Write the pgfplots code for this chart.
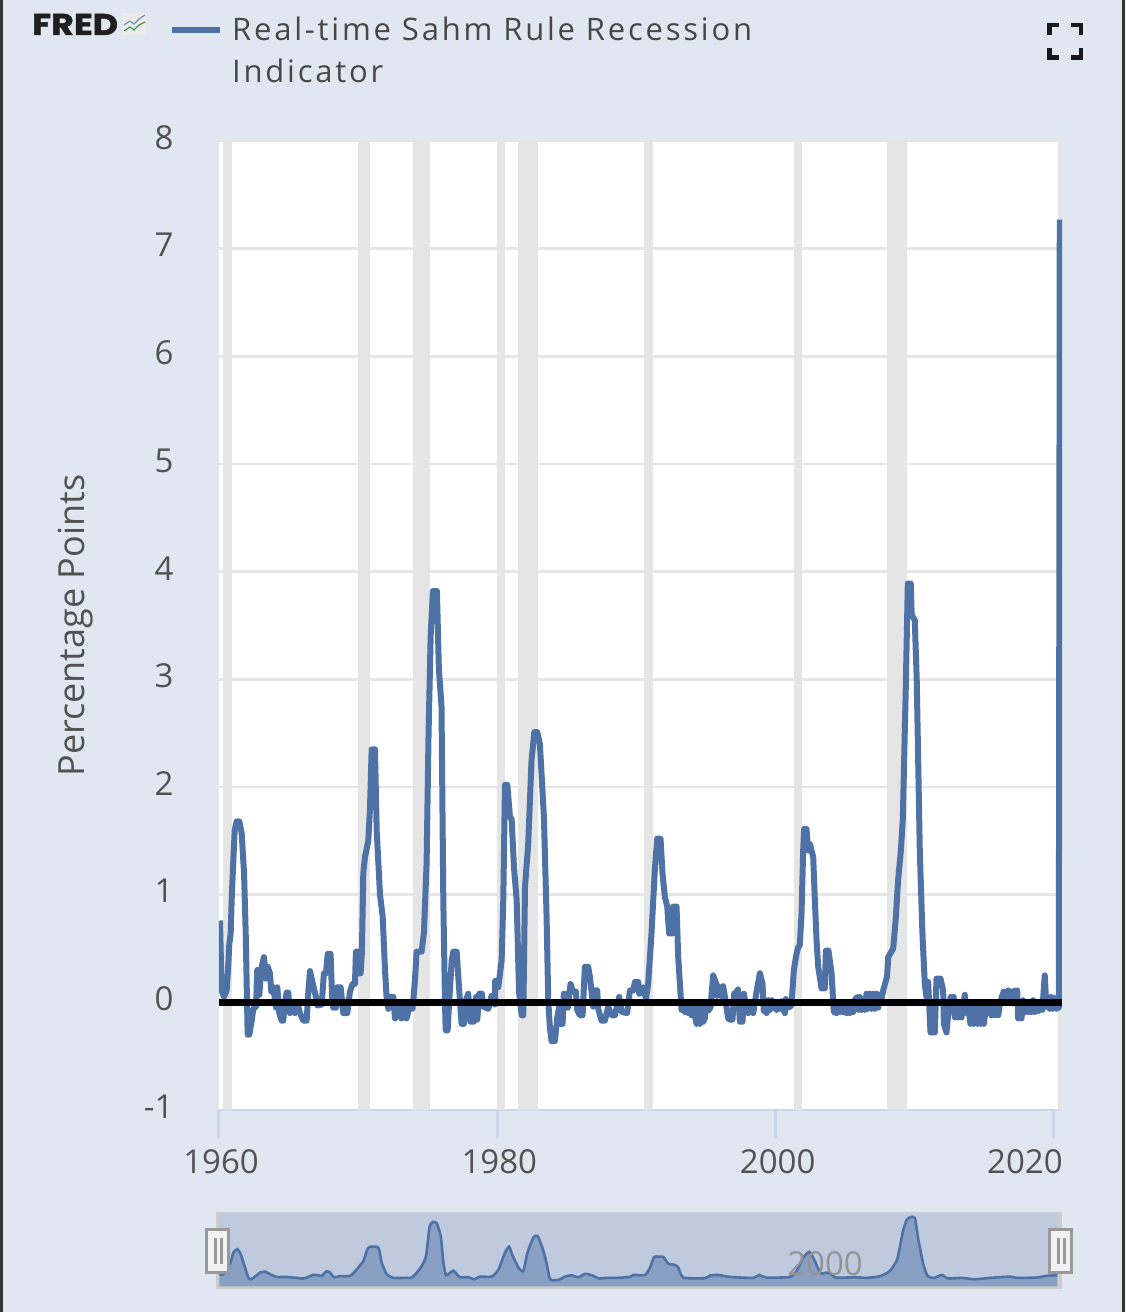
\documentclass[border=0pt]{standalone}
\usepackage{fontspec}
\setmainfont{Open Sans}
\newfontfamily\logofont[FakeStretch=1.16,BoldFeatures={FakeBold=1.5}]{Poppins}
\usepackage{pgfplots}
\usepackage{pgfplotstable}
\pgfplotsset{compat=1.18}
\definecolor{pagebg}{HTML}{E1E7F0}
\definecolor{sahm}{HTML}{4E72A5}
\definecolor{bandc}{HTML}{E5E5E5}
\definecolor{gridc}{HTML}{E6E6E6}
\definecolor{axisc}{HTML}{CCD6EB}
\definecolor{navbg}{HTML}{BFCADF}
\definecolor{navarea}{HTML}{8A9FC4}
\newcommand{\tickfont}{\fontsize{33}{38}\selectfont}
\newcommand{\labelfont}{\fontsize{36}{42}\selectfont}
\newcommand{\legfont}{\addfontfeature{LetterSpace=9}\fontsize{31}{42}\selectfont}
\pgfplotstableread{
year value
1960.07 0.76
1960.19 0.11
1960.36 0.05
1960.55 0.11
1960.65 0.30
1960.74 0.54
1960.84 0.64
1960.91 0.95
1961.03 1.32
1961.13 1.60
1961.27 1.68
1961.46 1.68
1961.63 1.57
1961.80 1.20
1961.92 0.64
1962.00 0.10
1962.06 -0.30
1962.18 -0.30
1962.35 -0.17
1962.47 -0.06
1962.66 -0.04
1962.75 0.30
1962.90 0.07
1963.02 0.30
1963.23 0.42
1963.38 0.22
1963.50 0.33
1963.66 0.27
1963.76 0.10
1963.90 0.14
1964.10 -0.05
1964.19 0.14
1964.33 -0.10
1964.50 -0.17
1964.62 -0.17
1964.74 0.00
1964.86 0.09
1964.98 0.09
1965.10 -0.10
1965.34 0.00
1965.46 -0.10
1965.63 0.00
1965.82 -0.10
1966.06 -0.17
1966.30 -0.17
1966.42 0.10
1966.54 0.29
1966.78 0.15
1966.97 0.05
1967.07 -0.03
1967.38 -0.02
1967.54 0.27
1967.69 0.27
1967.81 0.45
1968.02 0.45
1968.14 0.00
1968.21 -0.05
1968.41 -0.05
1968.50 0.14
1968.74 0.14
1968.93 -0.10
1969.22 -0.10
1969.41 0.10
1969.60 0.17
1969.77 0.17
1969.84 0.47
1969.94 0.47
1970.01 0.27
1970.18 0.27
1970.27 0.47
1970.37 1.20
1970.49 1.35
1970.73 1.50
1970.85 1.80
1970.97 2.35
1971.21 2.35
1971.33 1.60
1971.57 1.00
1971.76 0.80
1971.93 0.30
1972.05 0.03
1972.17 -0.06
1972.29 0.05
1972.53 0.05
1972.65 -0.15
1972.89 -0.10
1973.00 0.00
1973.12 -0.15
1973.29 -0.02
1973.48 -0.15
1973.68 -0.05
1973.91 -0.06
1974.08 0.20
1974.20 0.47
1974.56 0.47
1974.73 0.65
1974.92 1.30
1975.06 2.50
1975.21 3.40
1975.37 3.82
1975.66 3.82
1975.80 3.10
1975.99 2.75
1976.12 0.95
1976.24 0.00
1976.29 -0.26
1976.43 -0.26
1976.55 0.02
1976.72 0.39
1976.84 0.47
1977.08 0.47
1977.20 0.23
1977.43 -0.20
1977.60 -0.20
1977.75 0.02
1977.91 0.08
1978.08 -0.18
1978.32 -0.18
1978.47 0.05
1978.56 -0.16
1978.70 0.08
1978.89 0.08
1978.99 -0.04
1979.35 -0.06
1979.59 0.06
1979.83 -0.02
1979.85 0.20
1980.07 0.14
1980.31 0.39
1980.43 0.95
1980.55 2.02
1980.72 2.02
1980.91 1.72
1981.03 1.70
1981.20 1.25
1981.39 0.95
1981.56 0.10
1981.75 -0.12
1981.87 -0.12
1981.99 1.07
1982.22 1.47
1982.46 2.25
1982.66 2.51
1982.87 2.51
1983.06 2.40
1983.35 1.72
1983.54 0.80
1983.66 0.02
1983.78 -0.24
1983.90 -0.36
1984.14 -0.36
1984.31 -0.14
1984.45 -0.04
1984.54 -0.20
1984.69 -0.20
1984.78 0.08
1984.88 -0.05
1984.98 0.08
1985.07 -0.05
1985.26 0.17
1985.45 0.10
1985.65 0.10
1985.74 -0.07
1985.93 -0.12
1986.13 -0.12
1986.29 0.33
1986.53 0.33
1986.65 0.24
1986.79 0.08
1986.89 -0.04
1987.01 0.11
1987.18 0.11
1987.25 -0.06
1987.49 -0.17
1987.73 -0.17
1987.97 -0.04
1988.21 -0.12
1988.45 -0.12
1988.76 0.05
1988.93 -0.09
1989.33 -0.10
1989.53 0.11
1989.77 0.11
1989.89 0.19
1990.13 0.19
1990.20 0.08
1990.48 0.14
1990.68 0.03
1990.84 0.17
1991.08 0.64
1991.32 1.23
1991.49 1.52
1991.73 1.52
1991.87 1.20
1992.04 0.98
1992.21 0.89
1992.35 0.64
1992.59 0.64
1992.64 0.89
1992.88 0.89
1993.00 0.42
1993.24 -0.07
1993.36 -0.02
1993.48 -0.09
1993.60 -0.01
1993.72 -0.10
1993.84 -0.02
1993.96 -0.12
1994.08 -0.01
1994.20 -0.13
1994.32 -0.20
1994.44 0.00
1994.56 -0.20
1994.68 0.00
1994.80 -0.18
1994.91 -0.15
1994.99 0.00
1995.15 -0.08
1995.32 -0.05
1995.51 0.25
1995.71 0.18
1995.79 0.06
1995.87 0.15
1996.05 0.06
1996.23 0.15
1996.42 0.00
1996.59 -0.15
1996.71 -0.16
1996.90 -0.16
1997.02 0.08
1997.20 0.10
1997.30 0.12
1997.43 -0.18
1997.62 -0.18
1997.72 0.08
1997.91 -0.06
1998.03 -0.10
1998.15 -0.04
1998.39 -0.10
1998.63 0.10
1998.87 0.27
1999.06 0.17
1999.15 -0.08
1999.25 0.02
1999.35 -0.10
1999.47 0.02
1999.60 -0.07
1999.72 0.02
1999.82 -0.05
1999.95 0.00
2000.06 -0.07
2000.18 0.00
2000.30 -0.06
2000.42 0.01
2000.55 -0.06
2000.66 -0.10
2000.73 0.03
2000.90 -0.05
2001.14 -0.03
2001.31 0.30
2001.50 0.45
2001.62 0.51
2001.74 0.53
2001.86 0.82
2001.98 1.41
2002.05 1.61
2002.22 1.61
2002.34 1.41
2002.46 1.47
2002.70 1.35
2002.82 0.95
2002.94 0.58
2003.06 0.33
2003.30 0.13
2003.54 0.13
2003.61 0.48
2003.80 0.48
2004.02 0.27
2004.18 -0.09
2004.38 -0.10
2004.50 -0.04
2004.62 -0.09
2004.73 -0.04
2004.85 -0.09
2004.97 -0.04
2005.09 -0.10
2005.21 -0.05
2005.33 -0.10
2005.45 -0.06
2005.57 -0.09
2005.69 0.02
2005.86 0.05
2005.96 -0.07
2006.05 0.05
2006.17 -0.07
2006.29 0.02
2006.41 -0.07
2006.53 0.08
2006.65 -0.06
2006.77 0.08
2006.89 -0.06
2007.01 0.08
2007.13 -0.06
2007.25 0.08
2007.37 -0.05
2007.49 0.07
2007.61 0.03
2007.73 0.11
2008.01 0.24
2008.09 0.42
2008.45 0.50
2008.64 0.79
2008.80 1.13
2009.00 1.41
2009.14 1.70
2009.35 2.90
2009.50 3.89
2009.71 3.89
2009.78 3.60
2010.00 3.55
2010.14 3.00
2010.36 1.41
2010.55 0.64
2010.72 0.17
2010.84 0.05
2010.96 0.19
2011.13 -0.28
2011.44 -0.28
2011.56 0.22
2011.85 0.22
2012.04 0.11
2012.09 -0.20
2012.28 -0.28
2012.45 -0.04
2012.58 0.05
2012.71 -0.08
2012.80 0.05
2012.88 -0.14
2013.00 -0.02
2013.12 -0.14
2013.24 -0.03
2013.36 -0.14
2013.48 -0.02
2013.60 0.07
2013.72 -0.10
2013.84 -0.02
2014.00 -0.20
2014.12 -0.03
2014.24 -0.20
2014.36 -0.05
2014.48 -0.20
2014.60 -0.04
2014.72 -0.20
2014.84 -0.05
2014.96 -0.20
2015.10 -0.06
2015.20 -0.10
2015.39 -0.03
2015.50 -0.12
2015.63 -0.03
2015.75 -0.12
2015.87 -0.04
2016.00 -0.12
2016.11 -0.02
2016.25 0.05
2016.40 0.10
2016.54 -0.01
2016.71 0.11
2016.83 -0.01
2016.95 0.10
2017.07 -0.01
2017.19 0.11
2017.30 -0.01
2017.36 0.11
2017.43 -0.15
2017.55 -0.03
2017.67 -0.15
2017.79 0.02
2017.90 -0.09
2018.00 0.00
2018.14 -0.09
2018.27 0.00
2018.38 -0.09
2018.50 0.02
2018.62 -0.09
2018.74 0.00
2018.88 -0.08
2019.03 -0.02
2019.17 -0.07
2019.34 0.25
2019.46 -0.04
2019.58 0.05
2019.70 -0.06
2019.80 0.05
2019.90 -0.06
2020.03 0.04
2020.18 -0.06
2020.27 0.04
2020.35 -0.05
2020.42 7.27
}\sahmtable
\pgfplotstableread{
year value
1960.03 0.22
1960.31 0.22
1960.79 0.87
1961.03 1.62
1961.32 1.84
1961.56 1.52
1961.87 0.65
1962.11 0.00
1962.30 -0.11
1962.59 0.06
1962.95 0.32
1963.31 0.39
1963.67 0.22
1964.15 0.04
1964.87 0.04
1965.58 -0.02
1966.06 -0.06
1966.42 0.04
1966.73 0.17
1967.14 0.15
1967.38 0.11
1967.74 0.41
1967.98 0.32
1968.27 0.02
1968.70 0.09
1969.42 0.11
1969.90 0.54
1970.37 1.08
1970.66 1.84
1970.85 2.00
1971.45 1.95
1971.69 0.97
1972.05 0.22
1972.53 -0.02
1973.25 -0.02
1973.85 0.00
1974.21 0.32
1974.57 0.76
1974.88 1.41
1975.12 3.25
1975.36 3.61
1975.64 3.53
1975.93 2.70
1976.12 0.97
1976.31 0.15
1976.55 0.28
1976.84 0.45
1977.08 0.22
1977.32 0.02
1977.92 0.02
1978.33 -0.11
1978.76 0.06
1979.59 0.06
1980.07 0.50
1980.55 1.62
1980.84 2.01
1981.10 1.41
1981.51 0.65
1981.87 0.43
1982.16 1.62
1982.59 2.60
1982.88 2.71
1983.19 2.06
1983.50 1.08
1983.79 -0.11
1984.39 -0.15
1984.86 0.06
1985.34 0.15
1985.82 0.02
1986.30 0.24
1986.78 0.15
1987.33 -0.06
1987.86 -0.02
1988.58 -0.02
1989.53 0.04
1989.77 0.17
1990.61 0.17
1990.97 0.65
1991.26 1.34
1991.57 1.36
1991.92 1.34
1992.28 0.91
1992.76 0.82
1993.00 0.65
1993.36 0.00
1994.91 -0.04
1995.27 0.13
1995.87 0.17
1996.71 0.04
1998.39 -0.02
1998.82 0.17
1999.30 0.00
2001.02 0.04
2001.50 0.43
2001.98 1.30
2002.41 1.67
2002.75 1.19
2003.22 0.28
2003.61 0.32
2003.89 0.28
2004.33 0.00
2005.81 0.02
2006.53 -0.02
2007.49 0.09
2008.20 0.43
2008.73 1.19
2009.12 2.92
2009.40 3.74
2009.69 3.92
2010.00 3.87
2010.24 2.49
2010.60 0.87
2010.91 0.11
2011.37 -0.02
2011.92 0.17
2012.40 -0.06
2013.35 -0.02
2014.31 -0.11
2015.39 -0.02
2016.83 0.06
2017.31 -0.02
2018.74 0.00
2019.46 0.11
2020.23 0.15
}\navtable
\newcommand{\band}[2]{\addplot[fill=bandc,draw=none,forget plot] coordinates {(#1,-1) (#1,8) (#2,8) (#2,-1)} -- cycle;}
\begin{document}
\begin{tikzpicture}[x=1pt,y=1pt]
\path[use as bounding box] (0,0) rectangle (1125,1312);
\fill[pagebg] (0,0) rectangle (1125,1312);
\fill[black!80] (0,0) rectangle (3,1312);
\fill[black!80] (1122,0) rectangle (1125,1312);
% logo
\node[anchor=base west,inner sep=0pt,text=black!88] at (32,1277) {\logofont\bfseries\fontsize{30}{30}\selectfont FRED};
\fill[black!8] (122,1277) rectangle (146,1299);
\draw[line width=1.2pt,sahm!80] (124,1287) -- (130,1291) -- (134,1288) -- (139,1293) -- (145,1297);
\draw[line width=1.2pt,green!40!black!70] (124,1281) -- (130,1285) -- (134,1282) -- (139,1287) -- (145,1290);
% full-screen icon
\fill[black!90] (1047,1289) rectangle (1059,1284.5);
\fill[black!90] (1047,1289) rectangle (1051.5,1277);
\fill[black!90] (1071,1289) rectangle (1083,1284.5);
\fill[black!90] (1078.5,1289) rectangle (1083,1277);
\fill[black!90] (1047,1252) rectangle (1059,1256.5);
\fill[black!90] (1047,1252) rectangle (1051.5,1264);
\fill[black!90] (1071,1252) rectangle (1083,1256.5);
\fill[black!90] (1078.5,1252) rectangle (1083,1264);
\begin{axis}[
  at={(219pt,202pt)},anchor=south west,
  scale only axis,width=843pt,height=969pt,
  xmin=1960,xmax=2020.58,ymin=-1,ymax=8,
  axis background/.style={fill=white},
  axis x line*=bottom,axis y line*=left,
  y axis line style={draw=none},
  x axis line style={draw=axisc,line width=2.5pt,-},
  xtick={1960,1980,2000,2020},
  xticklabels={1960,1980,2000,\hspace*{-62pt}2020},
  ytick={-1,0,1,2,3,4,5,6,7,8},
  yticklabels={-1,0,1,2,3,4,5,6,7,8},
  ymajorgrids,
  grid style={draw=gridc,line width=2.5pt},
  major x tick style={draw=axisc,line width=3pt},
  major y tick style={draw=none},
  tick align=outside,
  xtick pos=lower,ytick pos=left,
  x tick label style={font=\tickfont,text=black!68,xshift=2pt,yshift=-8pt},
  y tick label style={font=\tickfont,text=black!68,xshift=-14pt,yshift=3.5pt},
  major tick length=28pt,
  ylabel={Percentage Points},
  ylabel style={font=\labelfont,text=black!68,at={(axis description cs:-0.170,0.5)},anchor=center},
  legend style={at={(axis description cs:-0.0593,1.128)},anchor=north west,draw=none,fill=none,
    font=\legfont,text=black!72,inner sep=0pt,nodes={align=left,inner sep=0pt}},
  legend cell align=left,
  legend image code/.code={\path[draw=none,fill=none] (0pt,21pt) -- (60pt,21pt);\draw[sahm,line width=6pt] (0pt,21pt) -- (48pt,21pt);},
]
\band{1960.29}{1960.93}
\band{1969.99}{1970.85}
\band{1973.94}{1975.16}
\band{1979.97}{1980.55}
\band{1981.48}{1982.92}
\band{1990.53}{1991.18}
\band{2001.31}{2001.88}
\band{2007.99}{2009.43}
\band{2020.27}{2020.58}
\addplot[sahm,line width=6pt,line join=round] table[x=year,y=value] {\sahmtable};
\addlegendentry{Real-time Sahm Rule Recession\\Indicator}
\addplot[black,line width=6.5pt,forget plot] coordinates {(1960,0) (2020.58,0)};
\end{axis}
% navigator
\fill[black!20] (216,23) rectangle (1061.7,100);
\fill[navbg] (219,25.5) rectangle (1057.3,97.5);
\begin{axis}[
  at={(219pt,25.5pt)},anchor=south west,
  scale only axis,width=838.3pt,height=72pt,
  xmin=1960,xmax=2020.23,ymin=-0.58,ymax=4.1,
  hide axis,clip=true,
]
\addplot[fill=navarea,draw=none,smooth,tension=0.35] table[x=year,y=value] {\navtable} -- (axis cs:2020.23,-0.58) -- (axis cs:1960.03,-0.58) -- cycle;
\addplot[sahm,line width=2.6pt,smooth,tension=0.35] table[x=year,y=value] {\navtable};
\end{axis}
\node[text=black!42,font=\tickfont,inner sep=0pt] at (825,48) {2000};
% handles
\foreach \hx in {205,1048}{
  \filldraw[fill=black!5,draw=black!40,line width=3pt] (\hx+1.5,39.5) rectangle (\hx+23.5,82.5);
  \fill[black!40] (\hx+9,48) rectangle (\hx+11.5,74);
  \fill[black!40] (\hx+15,48) rectangle (\hx+17.5,74);
}
\end{tikzpicture}
\end{document}
